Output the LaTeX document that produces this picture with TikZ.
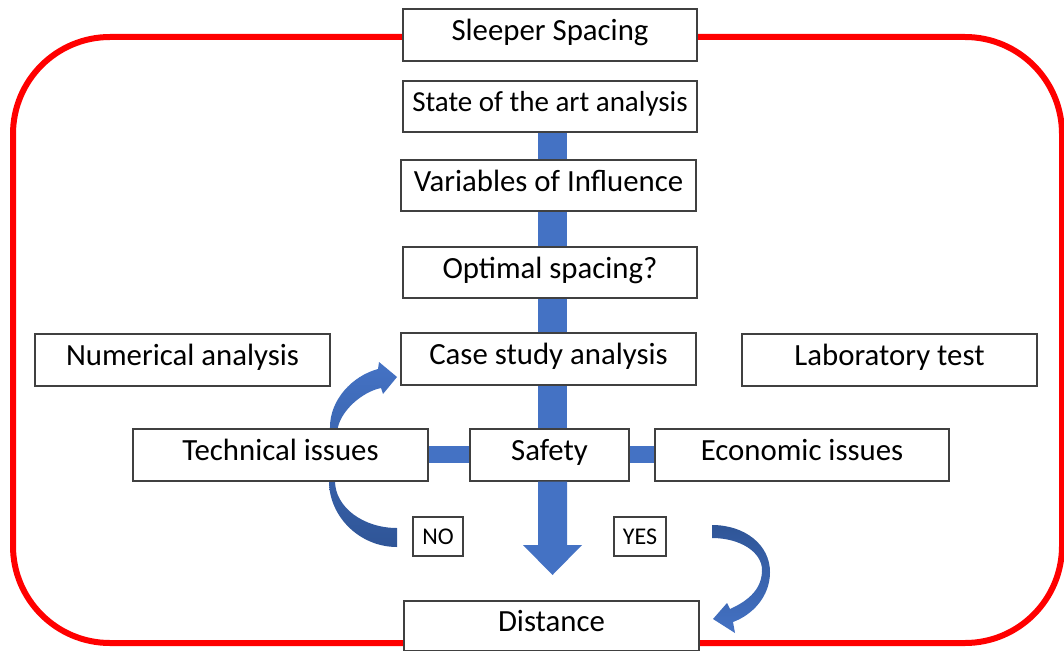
\documentclass[tikz,border=0pt]{standalone}
\usepackage{fontspec}
\setmainfont{Carlito}
\definecolor{frame}{HTML}{FF0000}
\definecolor{barblue}{HTML}{4472C4}
\definecolor{arrlight}{HTML}{4472C4}
\definecolor{arrdark}{HTML}{2F5597}
\definecolor{boxline}{HTML}{404040}
\begin{document}
\begin{tikzpicture}[x=1pt,y=-1pt,
  box/.style={draw=boxline, line width=1.2pt, fill=white, inner sep=0pt,
    text height=20pt, text depth=9pt,
    minimum width=295pt, minimum height=52pt, font=\fontsize{30.8}{34}\selectfont},
  smallbox/.style={draw=boxline, line width=1.2pt, fill=white, inner sep=0pt,
    minimum height=39pt, font=\fontsize{24}{28}\selectfont},
  bar/.style={fill=barblue}]
\useasboundingbox (0,0) rectangle (1064,650);
% red frame
\draw[frame, line width=6pt, rounded corners=97pt] (13,37) rectangle (1062,643);
% curved arrows (behind boxes)
\shade[top color=arrlight, bottom color=arrdark]
  (397,547) .. controls (360,547) and (329,517) .. (329,481)
  -- (330,427)
  .. controls (330,400) and (352,376) .. (378,369)
  -- (379,362) -- (397,377) -- (383,394) -- (381,388)
  .. controls (362,392) and (342,410) .. (338,427)
  -- (335,481)
  .. controls (335,507) and (363,528) .. (397,528) -- cycle;
\shade[top color=arrdark, bottom color=arrlight]
  (712,525) .. controls (745,525) and (770,545) .. (770,572)
  .. controls (770,597) and (752,615) .. (733,622)
  -- (735,633) -- (713,619) -- (727,603) -- (730,609)
  .. controls (750,600) and (762,588) .. (762,570)
  .. controls (762,552) and (740,538) .. (712,538) -- cycle;
% nodes
\node[box, minimum width=294pt] (sleeper) at (550,35) {Sleeper Spacing};
\node[box, minimum width=294pt, minimum height=51pt, font=\fontsize{29}{33}\selectfont] (state) at (550,106.5) {State of the art analysis};
\node[box, minimum height=51pt] (var) at (548.5,185.5) {Variables of Influence};
\node[box, minimum width=294pt, minimum height=51pt] (opt) at (550,272.5) {Optimal spacing?};
\node[box] (case) at (548.5,359) {Case study analysis};
\node[box] (num) at (182.5,360) {Numerical analysis};
\node[box] (lab) at (889.5,360) {Laboratory test};
\node[box] (tech) at (280.5,455) {Technical issues};
\node[box, minimum width=159pt] (safety) at (549.5,455) {Safety};
\node[box, minimum width=294pt] (econ) at (802,455) {Economic issues};
\node[smallbox, minimum width=50pt] (no) at (438,536.5) {NO};
\node[smallbox, minimum width=52pt] (yes) at (640,536.5) {YES};
\node[box, minimum height=50pt] (dist) at (551.5,626) {Distance};
% blue connectors
\fill[bar] (538,0 |- state.south) rectangle (567,0 |- var.north);
\fill[bar] (538,0 |- var.south) rectangle (567,0 |- opt.north);
\fill[bar] (538,0 |- opt.south) rectangle (567,0 |- case.north);
\fill[bar] (538,0 |- case.south) rectangle (567,0 |- safety.north);
\coordinate (tip) at (552.5,575);
\fill[bar] (538,0 |- safety.south) -- (538,545) -- (523,545) -- (tip) -- (582,545) -- (567,545) -- (567,0 |- safety.south) -- cycle;
\fill[bar] (tech.east |- 0,446) rectangle (safety.west |- 0,463);
\fill[bar] (safety.east |- 0,446) rectangle (econ.west |- 0,463);
\end{tikzpicture}
\end{document}
